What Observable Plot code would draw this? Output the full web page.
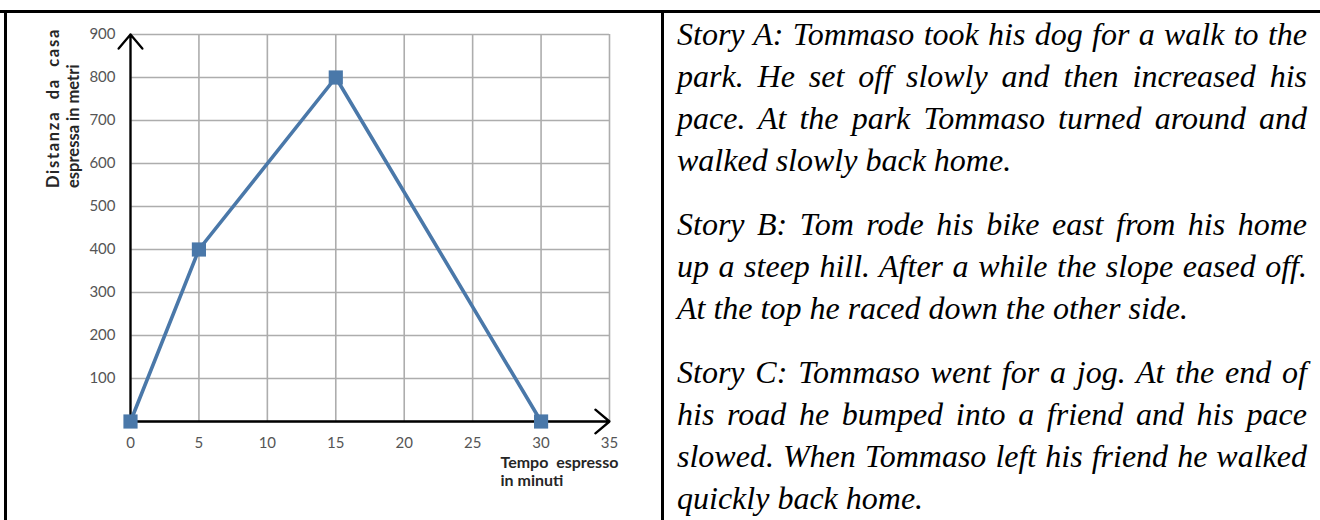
<!DOCTYPE html>
<html>
<head>
<meta charset="utf-8">
<script src="https://cdn.jsdelivr.net/npm/d3@7"></script>
<script src="https://cdn.jsdelivr.net/npm/@observablehq/plot@0.6"></script>
<style>
  html, body { margin: 0; padding: 0; background: #fff; }
  body { width: 1320px; height: 520px; position: relative; overflow: hidden; }
  #chart { position: absolute; left: 0; top: 0; }
  .border { position: absolute; background: #000; }
  #stories { position: absolute; left: 677px; top: 13px; width: 630px;
    font-family: "Liberation Serif", "Times New Roman", serif; font-style: italic;
    font-size: 32px; line-height: 42px; color: #000; }
  #stories p { margin: 0 0 22px 0; }
  #stories .ln { display: block; white-space: nowrap; text-align: justify; text-align-last: justify; }
  #stories .ln.last { text-align-last: left; }
</style>
</head>
<body>
<div class="border" style="left:0;top:10px;width:1320px;height:2.5px"></div>
<div class="border" style="left:4px;top:10px;width:3px;height:510px"></div>
<div class="border" style="left:661px;top:10px;width:3px;height:510px"></div>
<div id="chart"></div>
<div id="stories"></div>
<script>
// ---- data ----
const minutes = [0, 5, 15, 30];
const distance = [0, 400, 800, 0];
const xTicks = [0, 5, 10, 15, 20, 25, 30, 35];
const yTicks = [100, 200, 300, 400, 500, 600, 700, 800, 900];
const yGrid = [0, 100, 200, 300, 400, 500, 600, 700, 800, 900];
const xDomain = [0, 35];
const yDomain = [0, 900];
const yTitle = ["Distanza  da  casa", "espressa in metri"];
const xTitle = "Tempo  espresso\nin minuti";
const storyA = ["Story A: Tommaso took his dog for a walk to the",
  "park. He set off slowly and then increased his",
  "pace. At the park Tommaso turned around and",
  "walked slowly back home."];
const storyB = ["Story B: Tom rode his bike east from his home",
  "up a steep hill. After a while the slope eased off.",
  "At the top he raced down the other side."];
const storyC = ["Story C: Tommaso went for a jog. At the end of",
  "his road he bumped into a friend and his pace",
  "slowed. When Tommaso left his friend he walked",
  "quickly back home."];

const points = minutes.map((m, i) => ({minutes: m, distance: distance[i]}));
const lineColor = "#4a78a9";
const gridColor = "#adadad";

const plot = Plot.plot({
  width: 660, height: 520,
  marginLeft: 130, marginRight: 51, marginTop: 34, marginBottom: 99,
  x: {domain: xDomain, axis: null},
  y: {domain: yDomain, axis: null},
  style: {fontFamily: "Lato, 'Open Sans', sans-serif", background: "transparent", overflow: "visible"},
  marks: [
    Plot.ruleX(xTicks, {stroke: gridColor, strokeWidth: 1.6}),
    Plot.ruleY(yGrid, {stroke: gridColor, strokeWidth: 1.6}),
    Plot.arrow([0], {x1: xDomain[0], y1: yDomain[0], x2: xDomain[0], y2: yDomain[1],
      stroke: "#000", strokeWidth: 2.3, headLength: 12, headAngle: 80}),
    Plot.arrow([0], {x1: xDomain[0], y1: yDomain[0], x2: xDomain[1], y2: yDomain[0],
      stroke: "#000", strokeWidth: 2.3, headLength: 12, headAngle: 80}),
    Plot.line(points, {x: "minutes", y: "distance", stroke: lineColor, strokeWidth: 3.6}),
    Plot.dot(points, {x: "minutes", y: "distance", symbol: "square", r: 8, fill: lineColor, stroke: "none"}),
    Plot.text(yTicks, {x: xDomain[0], y: d => d, text: d => String(d), dx: -15, textAnchor: "end",
      fontSize: 15, fill: "#555555"}),
    Plot.text(xTicks, {x: d => d, y: yDomain[0], text: d => String(d), dy: 22,
      fontSize: 15, fill: "#555555"}),
    Plot.text([yTitle[0]], {frameAnchor: "left", rotate: -90, dx: -77, dy: -40, textAnchor: "start",
      fontSize: 16.5, fontWeight: "bold", fill: "#262626"}),
    Plot.text([yTitle[1]], {frameAnchor: "left", rotate: -90, dx: -57, dy: -40, textAnchor: "start",
      fontSize: 16.5, fontWeight: "bold", fill: "#262626"}),
    Plot.text([xTitle], {frameAnchor: "bottom", dx: 130.5, dy: 49.5, textAnchor: "start", lineAnchor: "middle",
      lineHeight: 1.18, fontSize: 16, fontWeight: "bold", fill: "#262626"})
  ]
});
document.getElementById("chart").appendChild(plot);
d3.select(plot).selectAll("text").style("white-space", "pre");
d3.select(plot).selectAll("text").filter(function() { return this.textContent === yTitle[0]; })
  .style("letter-spacing", "1.7px");

const st = d3.select("#stories");
for (const story of [storyA, storyB, storyC]) {
  const p = st.append("p");
  story.forEach((line, i) => {
    p.append("span").attr("class", "ln" + (i === story.length - 1 ? " last" : "")).text(line);
  });
}
</script>
</body>
</html>
